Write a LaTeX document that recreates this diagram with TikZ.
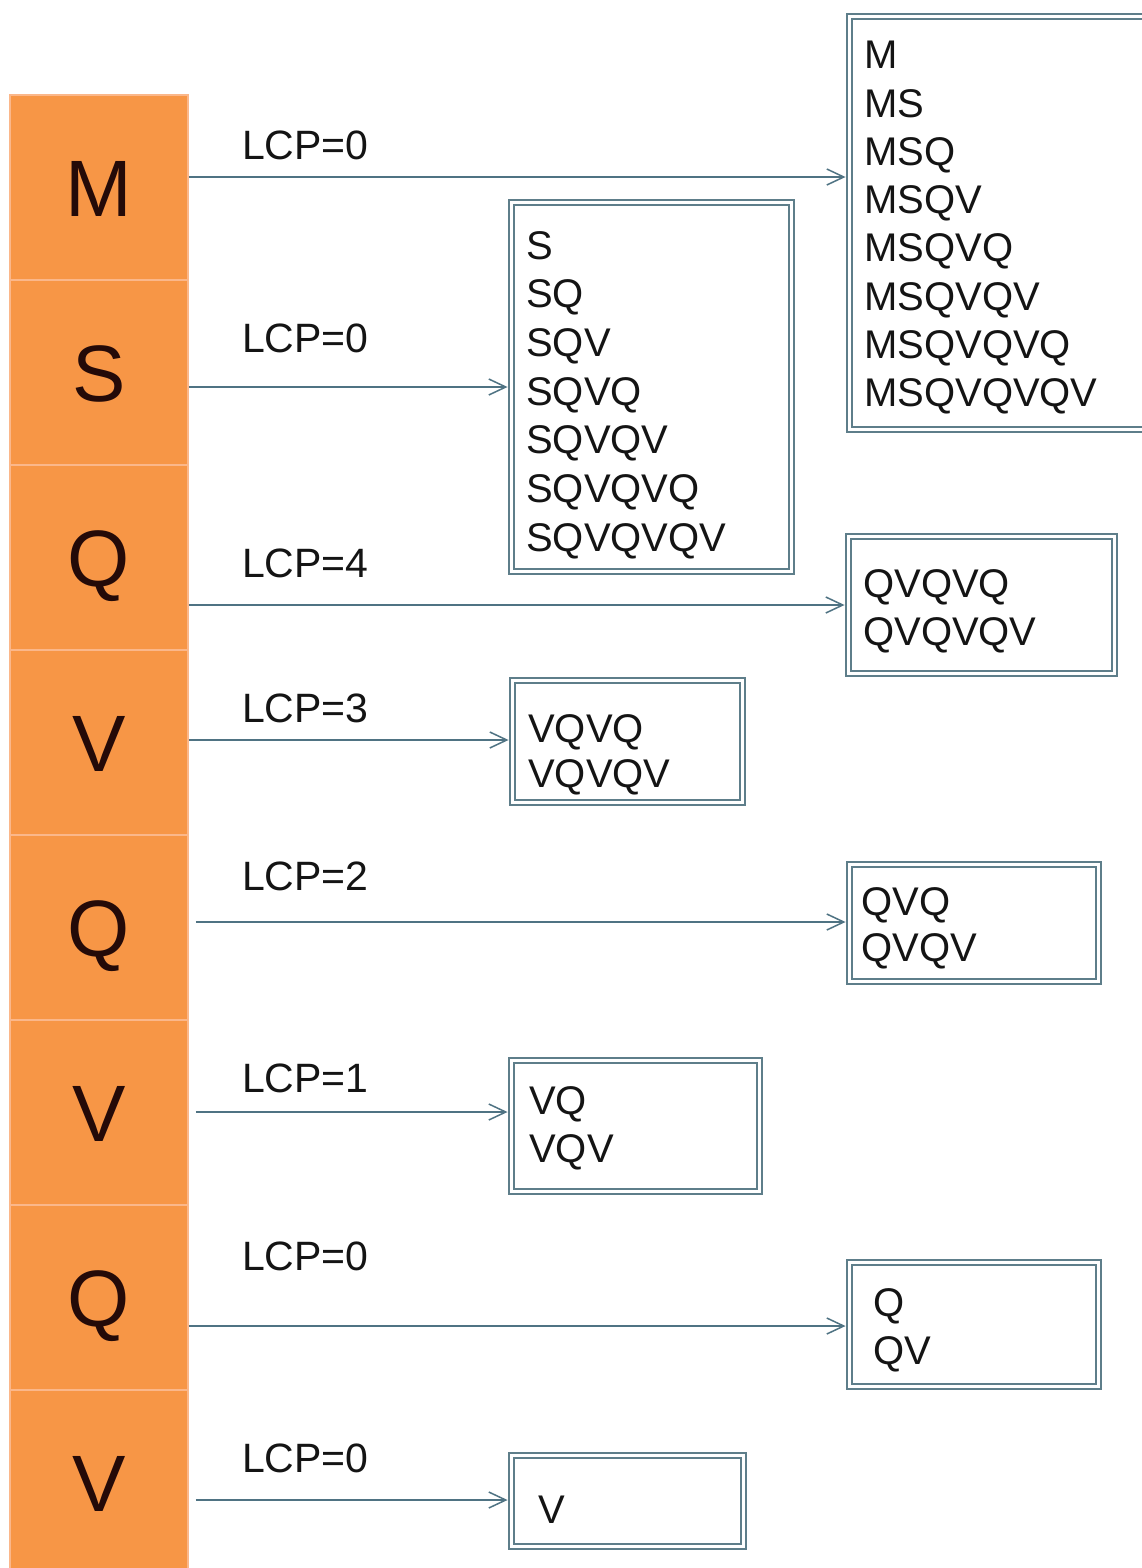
\documentclass[tikz,border=0pt]{standalone}
\usepackage{fontspec}
\setmainfont{Liberation Sans}
\usetikzlibrary{arrows.meta}
\definecolor{cellfill}{HTML}{F79646}
\definecolor{cellline}{HTML}{FBB78A}
\definecolor{linkcol}{HTML}{4F7383}
\definecolor{framecol}{HTML}{5E7E8A}
\definecolor{inkcol}{HTML}{141414}
\definecolor{letterink}{HTML}{240A08}

\begin{document}
\begin{tikzpicture}[x=1pt,y=-1pt,
  cell/.style={draw=cellline, line width=1.5pt, fill=cellfill, inner sep=0pt,
    minimum width=178pt, minimum height=185pt, text=letterink,
    font=\fontsize{80}{80}\selectfont, text height=57pt, text depth=0pt},
  framebox/.style={draw=framecol, line width=1.6pt, double=white,
    double distance=3.5pt, inner sep=0pt},
  link/.style={draw=linkcol, line width=1.8pt,
    -{Straight Barb[length=17pt,width=16pt,line width=1.5pt]}, shorten >=3pt},
  lcp/.style={anchor=west, inner sep=0pt, text=inkcol,
    font=\fontsize{41}{41}\selectfont, text height=29.5pt, text depth=0pt},
  listtext/.style={anchor=north west, inner sep=0pt, align=left, text=inkcol}
]
\clip (0,0) rectangle (1142,1568);
\fill[white] (0,0) rectangle (1142,1568);

% suffix column
\node[cell] (c1) at (99,187.5) {M};
\node[cell] (c2) at (99,372.5) {S};
\node[cell] (c3) at (99,557.5) {Q};
\node[cell] (c4) at (99,742.5) {V};
\node[cell] (c5) at (99,927.5) {Q};
\node[cell] (c6) at (99,1112.5) {V};
\node[cell] (c7) at (99,1297.5) {Q};
\node[cell] (c8) at (99,1482.5) {V};

% suffix groups
\node[framebox, minimum width=297.3pt, minimum height=413.3pt] (b1) at (998,223) {};
\node[framebox, minimum width=280.3pt, minimum height=369.3pt] (b2) at (651.5,387) {};
\node[framebox, minimum width=266.3pt, minimum height=137.3pt] (b3) at (981.5,605) {};
\node[framebox, minimum width=230.3pt, minimum height=122.3pt] (b4) at (627.5,741.5) {};
\node[framebox, minimum width=249.3pt, minimum height=117.3pt] (b5) at (974,923) {};
\node[framebox, minimum width=248.3pt, minimum height=131.3pt] (b6) at (635.5,1126) {};
\node[framebox, minimum width=249.3pt, minimum height=124.3pt] (b7) at (974,1324.5) {};
\node[framebox, minimum width=232.3pt, minimum height=91.3pt] (b8) at (627.5,1501) {};

% suffix lists
\node[listtext, font=\fontsize{40}{48.3}\selectfont] (t1) at (864,41)
  {M\\MS\\MSQ\\MSQV\\MSQVQ\\MSQVQV\\MSQVQVQ\\MSQVQVQV};
\node[listtext, font=\fontsize{40}{48.7}\selectfont] (t2) at (526,231)
  {S\\SQ\\SQV\\SQVQ\\SQVQV\\SQVQVQ\\SQVQVQV};
\node[listtext, font=\fontsize{40}{48.5}\selectfont] (t3) at (863,569)
  {QVQVQ\\QVQVQV};
\node[listtext, font=\fontsize{40}{45.5}\selectfont] (t4) at (528,714)
  {VQVQ\\VQVQV};
\node[listtext, font=\fontsize{40}{46}\selectfont] (t5) at (861,887)
  {QVQ\\QVQV};
\node[listtext, font=\fontsize{40}{48}\selectfont] (t6) at (529,1086)
  {VQ\\VQV};
\node[listtext, font=\fontsize{40}{48.5}\selectfont] (t7) at (873,1288)
  {Q\\QV};
\node[listtext, font=\fontsize{40}{48}\selectfont] (t8) at (538,1496)
  {V};

% LCP labels
\node[lcp] (l1) at (242,145) {LCP=0};
\node[lcp] (l2) at (242,338) {LCP=0};
\node[lcp] (l3) at (242,563) {LCP=4};
\node[lcp] (l4) at (242,708) {LCP=3};
\node[lcp] (l5) at (242,876) {LCP=2};
\node[lcp] (l6) at (242,1078) {LCP=1};
\node[lcp] (l7) at (242,1256) {LCP=0};
\node[lcp] (l8) at (242,1458) {LCP=0};

% connectors
\draw[link] (c1.east |- 0,177) -- (b1.west |- 0,177);
\draw[link] (c2.east |- 0,387) -- (b2.west |- 0,387);
\draw[link] (c3.east |- 0,605) -- (b3.west |- 0,605);
\draw[link] (c4.east |- 0,740) -- (b4.west |- 0,740);
\draw[link] ([xshift=7pt]c5.east |- 0,922) -- (b5.west |- 0,922);
\draw[link] ([xshift=7pt]c6.east |- 0,1112) -- (b6.west |- 0,1112);
\draw[link] (c7.east |- 0,1326) -- (b7.west |- 0,1326);
\draw[link] ([xshift=7pt]c8.east |- 0,1500) -- (b8.west |- 0,1500);
\end{tikzpicture}
\end{document}
